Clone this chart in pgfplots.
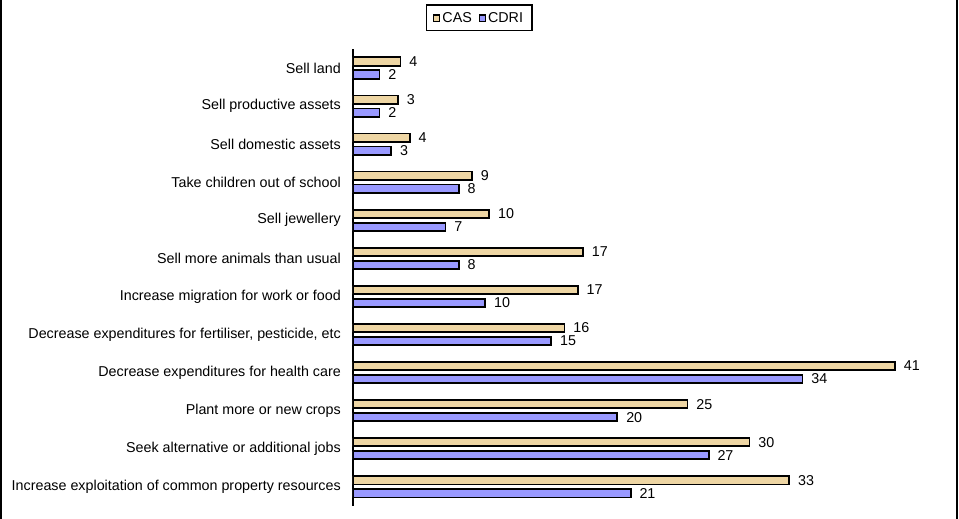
\documentclass[border=0pt]{standalone}
\usepackage{pgfplots}
\pgfplotsset{compat=1.18}
\usepackage{fontspec}
\setmainfont{Liberation Sans}
\definecolor{cas}{RGB}{238,214,164}
\definecolor{cdri}{RGB}{153,153,255}
\begin{document}
\begin{tikzpicture}
\useasboundingbox (-353pt,-13.2pt) rectangle (606pt,505.8pt);
\begin{axis}[
  scale only axis, width=594.9pt, height=456.8pt,
  xbar, xmin=0, xmax=45, ymin=-0.5, ymax=11.5,
  axis x line=none, axis y line=left,
  axis line style={-, line width=1.4pt, black},
  ytick={0,...,11},
  yticklabels={Increase exploitation of common property resources,
    Seek alternative or additional jobs,
    Plant more or new crops,
    Decrease expenditures for health care,
    {Decrease expenditures for fertiliser, pesticide, etc},
    Increase migration for work or food,
    Sell more animals than usual,
    Sell jewellery,
    Take children out of school,
    Sell domestic assets,
    Sell productive assets,
    Sell land},
  major tick length=0pt,
  yticklabel style={font=\fontsize{14.3}{16}\selectfont, inner sep=0pt, xshift=-12pt},
  bar width=8.3pt,
  point meta=explicit symbolic,
  nodes near coords,
  nodes near coords style={font=\fontsize{14.3}{16}\selectfont, anchor=west, inner sep=0pt, xshift=8pt, text=black},
  legend style={at={(0.212,1.068)}, anchor=center, legend columns=2, draw=black, line width=1.4pt,
    font=\fontsize{14.3}{16}\selectfont, inner xsep=7pt, inner ysep=5pt,
    /tikz/every even column/.append style={column sep=5pt}},
  legend image code/.code={\draw[#1, line width=1.2pt] (0pt,-3.5pt) rectangle (6pt,3pt);},
]
\addplot[fill=cas, draw=black, line width=1.8pt, bar shift=6.5pt] coordinates {
  (33,0) [33] (30,1) [30] (25.3,2) [25] (41,3) [41] (16,4) [16] (17,5) [17]
  (17.4,6) [17] (10.3,7) [10] (9,8) [9] (4.3,9) [4] (3.4,10) [3] (3.6,11) [4]
};
\addplot[fill=cdri, draw=black, line width=1.8pt, bar shift=-6.5pt] coordinates {
  (21,0) [21] (26.9,1) [27] (20,2) [20] (34,3) [34] (15,4) [15] (10,5) [10]
  (8,6) [8] (7,7) [7] (8,8) [8] (2.9,9) [3] (2,10) [2] (2,11) [2]
};
\legend{CAS, CDRI}
\end{axis}
\draw[line width=2pt] (-352pt,-13.2pt) -- (-352pt,505.8pt);
\draw[line width=2pt] (604pt,-13.2pt) -- (604pt,505.8pt);
\end{tikzpicture}
\end{document}
